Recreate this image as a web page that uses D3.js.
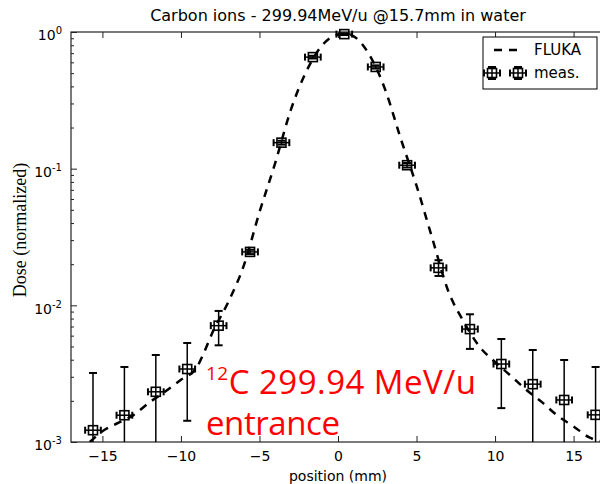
<!DOCTYPE html>
<html>
<head>
<meta charset="utf-8">
<script src="https://cdn.jsdelivr.net/npm/d3@7"></script>
<style>
  body { margin: 0; background: #fff; }
  svg { display: block; }
  .axis text { font-family: "DejaVu Sans", sans-serif; font-size: 14px; fill: #000; }
  .axis path, .axis line { stroke: #222; }
</style>
</head>
<body>
<svg id="chart" width="600" height="484"></svg>
<script>
//

const xTicks = [-15, -10, -5, 0, 5, 10, 15]
const yTicks = [1e-3, 1e-2, 1e-1, 1]

// FLUKA simulation (dashed line)
const flukaX = [-15.8, -15, -14, -13, -12, -11, -10, -9, -8.5, -8, -7, -6, -5, -4, -3, -2, -1, 0, 0.5, 1, 2, 3, 4, 5, 6, 7, 8, 9, 10, 11, 12, 13, 14, 15, 16, 17]
const flukaY = [1.0e-3, 1.2e-3, 1.38e-3, 1.58e-3, 1.95e-3, 2.34e-3, 2.85e-3, 3.5e-3, 4.6e-3, 6.3e-3, 0.0105, 0.0195, 0.048, 0.11, 0.27, 0.52, 0.8, 0.955, 0.965, 0.93, 0.68, 0.38, 0.165, 0.075, 0.031, 0.0129, 7.6e-3, 5.0e-3, 3.85e-3, 3.05e-3, 2.4e-3, 1.95e-3, 1.55e-3, 1.3e-3, 1.08e-3, 1.0e-3]

// measurements with error bars
const measX = [-15.6, -13.6, -11.6, -9.6, -7.6, -5.6, -3.6, -1.6, 0.4, 2.4, 4.4, 6.4, 8.4, 10.4, 12.4, 14.4, 16.4]
const measY = [1.22e-3, 1.57e-3, 2.33e-3, 3.42e-3, 7.1e-3, 2.46e-2, 0.155, 0.655, 0.965, 0.555, 0.106, 1.88e-2, 6.7e-3, 3.72e-3, 2.65e-3, 2.03e-3, 1.58e-3]
const measHi = [3.2e-3, 3.54e-3, 4.33e-3, 5.3e-3, 9.1e-3, 2.55e-2, 0.16, 0.67, 0.98, 0.57, 0.11, 2.14e-2, 8.6e-3, 5.67e-3, 4.71e-3, 3.98e-3, 3.54e-3]
const measLo = [0.5e-3, 0.5e-3, 0.5e-3, 1.43e-3, 5.1e-3, 2.37e-2, 0.15, 0.64, 0.95, 0.54, 0.102, 1.64e-2, 4.8e-3, 1.77e-3, 0.5e-3, 0.5e-3, 0.5e-3]
const measXErr = 0.5

//

const plotLeft = 71
const plotRight = 605
const plotTop = 32
const plotBottom = 442

const svg = d3.select('#chart')

const x = d3.scaleLinear().domain([-17, 17]).range([plotLeft, plotRight])
const y = d3.scaleLog().domain([1e-3, 1]).range([plotBottom, plotTop])

svg.append('defs').append('clipPath')
  .attr('id', 'plot-clip')
  .append('rect')
  .attr('x', plotLeft).attr('y', 0)
  .attr('width', plotRight - plotLeft).attr('height', plotBottom)

// axes

svg.append('g')
  .attr('class', 'axis axis--x')
  .attr('transform', `translate(0, ${plotBottom})`)
  .call(d3.axisBottom(x).tickValues(xTicks).tickSizeInner(-6).tickSizeOuter(0).tickPadding(9))

svg.append('g')
  .attr('class', 'axis axis--x-top')
  .attr('transform', `translate(0, ${plotTop})`)
  .call(d3.axisTop(x).tickValues(xTicks).tickSizeInner(-6).tickSizeOuter(0).tickFormat(''))

const yMinor = []
yTicks.slice(0, -1).forEach(d => {
  for (let k = 2; k < 10; k++) yMinor.push(d * k)
})

svg.append('g')
  .attr('class', 'axis axis--y-minor')
  .attr('transform', `translate(${plotLeft}, 0)`)
  .call(d3.axisLeft(y).tickValues(yMinor).tickSizeInner(-3).tickSizeOuter(0).tickFormat(''))

const yAxisG = svg.append('g')
  .attr('class', 'axis axis--y')
  .attr('transform', `translate(${plotLeft}, 0)`)
  .call(d3.axisLeft(y).tickValues(yTicks).tickSizeInner(-6).tickSizeOuter(0).tickPadding(9).tickFormat(''))

yAxisG.selectAll('.tick text')
  .attr('dy', '0.55em')
  .each(function (d) {
    const t = d3.select(this)
    t.append('tspan').text('10')
    t.append('tspan')
      .attr('dy', '-0.6em')
      .attr('font-size', '10px')
      .text(Math.round(Math.log10(d)))
  })

svg.selectAll('.axis .domain').remove()

// frame
svg.append('rect')
  .attr('x', plotLeft).attr('y', plotTop)
  .attr('width', plotRight - plotLeft).attr('height', plotBottom - plotTop)
  .attr('fill', 'none')
  .attr('stroke', '#222')
  .attr('stroke-width', 1.2)

// labels
svg.append('text')
  .attr('x', (plotLeft + plotRight) / 2)
  .attr('y', 21)
  .attr('text-anchor', 'middle')
  .style('font-family', '"DejaVu Sans", sans-serif')
  .style('font-size', '16px')
  .text('Carbon ions - 299.94MeV/u @15.7mm in water')

svg.append('text')
  .attr('x', (plotLeft + plotRight) / 2)
  .attr('y', 481)
  .attr('text-anchor', 'middle')
  .style('font-family', '"DejaVu Sans", sans-serif')
  .style('font-size', '14px')
  .text('position (mm)')

svg.append('text')
  .attr('transform', `translate(26, 230) rotate(-90)`)
  .attr('text-anchor', 'middle')
  .style('font-family', '"Liberation Serif", serif')
  .style('font-size', '18px')
  .text('Dose (normalized)')

// data

const plot = svg.append('g').attr('clip-path', 'url(#plot-clip)')

const line = d3.line()
  .x((d) => x(d[0]))
  .y((d) => y(d[1]))
  .curve(d3.curveMonotoneX)

plot.append('path')
  .datum(d3.zip(flukaX, flukaY))
  .attr('d', line)
  .attr('fill', 'none')
  .attr('stroke', '#000')
  .attr('stroke-width', 2.5)
  .attr('stroke-dasharray', '8,7')

const meas = measX.map((v, i) => ({ x: v, y: measY[i], hi: measHi[i], lo: measLo[i] }))

function drawMarker (g, cx, cy, x0, x1, yHi, yLo) {
  const s = '#000'
  g.append('line').attr('x1', x0).attr('x2', x1).attr('y1', cy).attr('y2', cy)
    .attr('stroke', s).attr('stroke-width', 1.5)
  g.append('line').attr('x1', cx).attr('x2', cx).attr('y1', yHi).attr('y2', yLo)
    .attr('stroke', s).attr('stroke-width', 1.5)
  ;[x0, x1].forEach(cxp => {
    g.append('line').attr('x1', cxp).attr('x2', cxp).attr('y1', cy - 3.5).attr('y2', cy + 3.5)
      .attr('stroke', s).attr('stroke-width', 2)
  })
  ;[yHi, yLo].forEach(cyp => {
    g.append('line').attr('x1', cx - 4).attr('x2', cx + 4).attr('y1', cyp).attr('y2', cyp)
      .attr('stroke', s).attr('stroke-width', 2)
  })
  g.append('rect')
    .attr('x', cx - 4.5).attr('y', cy - 4.5)
    .attr('width', 9).attr('height', 9)
    .attr('fill', 'none')
    .attr('stroke', s)
    .attr('stroke-width', 1.6)
}

plot.selectAll('g.meas')
  .data(meas)
  .join('g')
  .attr('class', 'meas')
  .each(function (d) {
    drawMarker(d3.select(this), x(d.x), y(d.y),
      x(d.x - measXErr), x(d.x + measXErr), y(d.hi), y(Math.max(d.lo, 1e-4)))
  })

// legend
const legend = svg.append('g').attr('class', 'legend')
legend.append('rect')
  .attr('x', 483).attr('y', 37)
  .attr('width', 114).attr('height', 52)
  .attr('fill', '#fff')
  .attr('stroke', '#000')
  .attr('stroke-width', 1)
legend.append('line')
  .attr('x1', 494).attr('x2', 521).attr('y1', 50).attr('y2', 50)
  .attr('stroke', '#000').attr('stroke-width', 2.5)
  .attr('stroke-dasharray', '8,7')
;[492, 518].forEach(cx => {
  drawMarker(legend.append('g'), cx, 73, cx - 8, cx + 8, 67, 79)
})
legend.selectAll('text.lbl')
  .data([['FLUKA', 55], ['meas.', 78]])
  .join('text')
  .attr('class', 'lbl')
  .attr('x', 534)
  .attr('y', (d) => d[1])
  .style('font-family', '"DejaVu Sans", sans-serif')
  .style('font-size', '15px')
  .text((d) => d[0])

// annotation
const note = svg.append('g')
  .style('font-family', '"Open Sans", sans-serif')
  .attr('fill', '#ff0000')
const l1 = note.append('text')
  .attr('x', 206).attr('y', 388)
  .attr('textLength', 270)
  .attr('lengthAdjust', 'spacing')
  .style('font-size', '33px')
l1.append('tspan').attr('dy', '-0.42em').style('font-size', '19px').text('12')
l1.append('tspan').attr('dy', '0.42em').text('C 299.94 MeV/u')
note.append('text')
  .attr('x', 206).attr('y', 435)
  .attr('textLength', 134)
  .attr('lengthAdjust', 'spacing')
  .style('font-size', '33px')
  .text('entrance')
</script>
</body>
</html>
